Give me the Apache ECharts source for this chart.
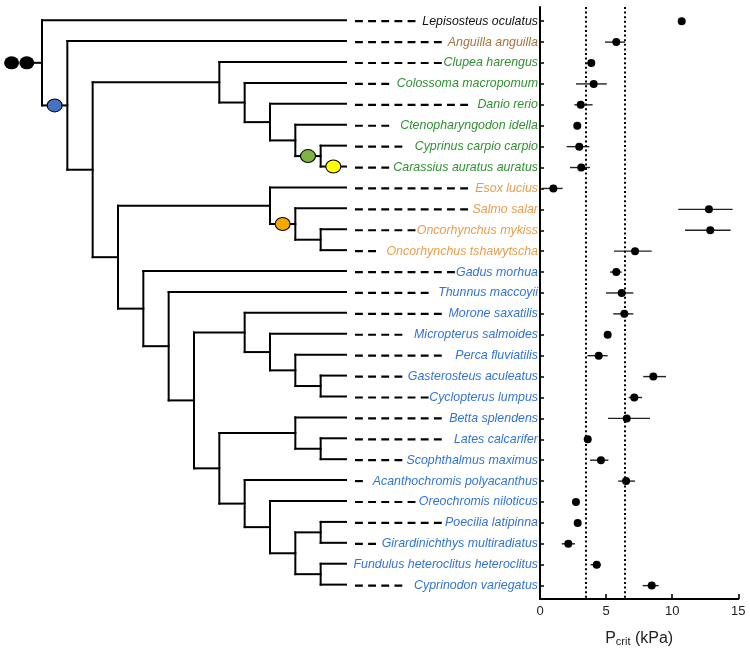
<!DOCTYPE html>
<html><head><meta charset="utf-8">
<script src="https://cdn.jsdelivr.net/npm/echarts@6/dist/echarts.min.js"></script>
<style>html,body{margin:0;padding:0;background:#fff}#c{width:750px;height:652px}</style>
</head><body><div id="c"></div>
<script>
// ---------- data ----------
const species = [
  'Lepisosteus oculatus','Anguilla anguilla','Clupea harengus','Colossoma macropomum',
  'Danio rerio','Ctenopharyngodon idella','Cyprinus carpio carpio','Carassius auratus auratus',
  'Esox lucius','Salmo salar','Oncorhynchus mykiss','Oncorhynchus tshawytscha',
  'Gadus morhua','Thunnus maccoyii','Morone saxatilis','Micropterus salmoides',
  'Perca fluviatilis','Gasterosteus aculeatus','Cyclopterus lumpus','Betta splendens',
  'Lates calcarifer','Scophthalmus maximus','Acanthochromis polyacanthus','Oreochromis niloticus',
  'Poecilia latipinna','Girardinichthys multiradiatus','Fundulus heteroclitus heteroclitus','Cyprinodon variegatus'
];
const group = [
  'gar','eel','ostariophysi','ostariophysi','ostariophysi','ostariophysi','ostariophysi','ostariophysi',
  'salmoniformes','salmoniformes','salmoniformes','salmoniformes',
  'neoteleostei','neoteleostei','neoteleostei','neoteleostei','neoteleostei','neoteleostei','neoteleostei','neoteleostei',
  'neoteleostei','neoteleostei','neoteleostei','neoteleostei','neoteleostei','neoteleostei','neoteleostei','neoteleostei'
];
const pcrit  = [10.72,5.77,3.88,4.06,3.08,2.82,2.97,3.12,1.01,12.78,12.88,7.19,5.77,6.18,6.38,5.12,4.44,8.57,7.13,6.56,3.61,4.61,6.51,2.72,2.85,2.14,4.29,8.45];
const ciLow  = [10.55,4.92,3.53,2.72,2.60,2.82,2.02,2.27,0.13,10.46,10.97,5.60,5.30,4.99,5.54,5.12,3.58,7.81,6.71,5.14,3.61,3.78,5.92,2.72,2.85,1.64,3.83,7.77];
const ciHigh = [10.90,6.43,4.16,5.05,3.98,2.82,3.73,3.78,1.71,14.57,14.42,8.45,6.18,7.06,7.06,5.12,5.12,9.53,7.72,8.32,3.61,5.17,7.19,2.72,2.85,2.65,4.61,8.98];
const xTicks = [0, 5, 10, 15];
const refLines = [3.45, 6.4];
// tree topology (leaf = species index)
const cyprinids = [2,[3,[4,[5,[6,7]]]]];
const salmonids = [8,[9,[10,11]]];
const percids   = [14,[15,[16,[17,18]]]];
const ovalentar = [[19,[20,21]],[22,[23,[[24,25],[26,27]]]]];
const tree = [0,[1,[cyprinids,[salmonids,[12,[13,[percids,ovalentar]]]]]]];
// duplication events marked on branches (clade given by first/last leaf)
const events = [
  {first:1, last:27, kind:'teleost'},
  {first:6, last:7,  kind:'carp'},
  {first:7, last:7,  kind:'goldfish'},
  {first:9, last:11, kind:'salmonid'}
];

// ---------- styles ----------
const FONT = '"Liberation Sans", Arial, Helvetica, sans-serif';
const groupColor = {gar:'#111111', eel:'#a5733f', ostariophysi:'#2f9131', salmoniformes:'#e99d4b', neoteleostei:'#3274d2'};
const eventColor = {teleost:'#4472c4', carp:'#7cb342', goldfish:'#ffff00', salmonid:'#f5a800'};
const PLOT_LEFT = 540, PLOT_W = 198.3, TOP = 7, H_PX = 592;
const ROW_MIN = 0.32, ROW_MAX = 28.64;
const ROW_PX = H_PX / (ROW_MAX - ROW_MIN);
const LABEL_FS = 12.4, LABEL_MARGIN = 2;
const DASH = 7.85, GAP = 5.3;

// ---------- tree layout ----------
function build(n, parent) {
  const node = {parent};
  if (typeof n === 'number') {
    node.leaf = true; node.first = node.last = n; node.h = 0; node.y = n + 1; node.children = [];
  } else {
    node.children = n.map(c => build(c, node));
    node.h = Math.max(...node.children.map(c => c.h)) + 1;
    const c0 = node.children[0], cl = node.children[node.children.length - 1];
    node.y = (c0.y + cl.y) / 2; node.first = c0.first; node.last = cl.last;
  }
  return node;
}
const root = build(tree, null);
const HMAX = root.h;
const segs = [], allNodes = [];
(function walk(n) {
  n.x = HMAX - n.h; allNodes.push(n);
  if (!n.leaf) {
    const c0 = n.children[0], cl = n.children[n.children.length - 1];
    n.children.forEach(c => { c.x = HMAX - c.h; });
    segs.push([n.x, c0.y, n.x, cl.y]);
    n.children.forEach(c => { segs.push([n.x, c.y, c.x, c.y]); walk(c); });
  }
})(root);
segs.push([-0.36, root.y, 0, root.y]);
const eventPts = events.map(e => {
  const n = allNodes.find(a => a.first === e.first && a.last === e.last);
  return {value: [(n.parent.x + n.x) / 2, n.y], itemStyle: {color: eventColor[e.kind]}};
});

// label widths for dash ends
const ctx = document.createElement('canvas').getContext('2d');
ctx.font = 'italic ' + LABEL_FS + 'px "Liberation Sans"';
const labelW = species.map(s => ctx.measureText(s).width);

const chart = echarts.init(document.getElementById('c'), null, {renderer: 'canvas'});
chart.setOption({
  animation: false,
  backgroundColor: '#fff',
  grid: [
    {left: 42 - 1.6 * 25.333, top: TOP - 1, width: 13.6 * 25.333, height: H_PX, containLabel: false, outerBoundsMode: 'none'},
    {left: PLOT_LEFT, top: TOP, width: PLOT_W, height: H_PX, containLabel: false, outerBoundsMode: 'none'},
    {left: PLOT_LEFT, top: TOP + (1 - ROW_MIN) * ROW_PX - 0.5 * ROW_PX,
     width: PLOT_W, height: 28 * ROW_PX, containLabel: false, outerBoundsMode: 'none'}
  ],
  xAxis: [
    {gridIndex: 0, type: 'value', min: -1.6, max: HMAX, show: false},
    {gridIndex: 1, type: 'value', min: xTicks[0], max: xTicks[xTicks.length - 1], interval: 5,
     axisLine: {onZero: false, lineStyle: {color: '#000', width: 2}},
     axisTick: {inside: true, length: 5, lineStyle: {color: '#000', width: 1.6}},
     axisLabel: {fontSize: 13, color: '#222', margin: 6, fontFamily: FONT},
     splitLine: {show: false},
     name: '{a|P}{b|crit}{a| (kPa)}', nameLocation: 'middle', nameGap: 31,
     nameTextStyle: {rich: {
       a: {fontSize: 16, color: '#222', fontFamily: FONT},
       b: {fontSize: 11, color: '#222', fontFamily: FONT, padding: [6, 0, 0, 0]}
     }}},
    {gridIndex: 2, type: 'value', min: 0, max: 15, show: false}
  ],
  yAxis: [
    {gridIndex: 0, type: 'value', inverse: true, min: ROW_MIN, max: ROW_MAX, show: false},
    {gridIndex: 1, type: 'value', inverse: true, min: ROW_MIN, max: ROW_MAX,
     axisLine: {show: true, onZero: false, lineStyle: {color: '#000', width: 2}},
     axisTick: {show: false}, axisLabel: {show: false}, splitLine: {show: false}},
    {gridIndex: 2, type: 'category', inverse: true,
     data: species.map((s, i) => ({value: s, textStyle: {color: groupColor[group[i]]}})),
     axisLine: {show: false},
     axisTick: {show: true, inside: true, alignWithLabel: true, length: 4, lineStyle: {color: '#000', width: 1.5}},
     axisLabel: {interval: 0, fontStyle: 'italic', fontSize: LABEL_FS, fontFamily: FONT, margin: LABEL_MARGIN},
     splitLine: {show: false}}
  ],
  series: [
    {type: 'custom', xAxisIndex: 0, yAxisIndex: 0, silent: true, z: 2,
     data: segs,
     renderItem: (p, api) => {
       const a = api.coord([api.value(0), api.value(1)]);
       const b = api.coord([api.value(2), api.value(3)]);
       return {type: 'line', shape: {x1: a[0], y1: a[1], x2: b[0], y2: b[1]},
               style: {stroke: '#000', lineWidth: 2, lineCap: 'square'}};
     }},
    {type: 'custom', xAxisIndex: 0, yAxisIndex: 0, silent: true, z: 2,
     data: species.map((s, i) => [HMAX, i + 1]),
     renderItem: (p, api) => {
       const i = api.value(1) - 1;
       const a = api.coord([api.value(0), api.value(1)]);
       const x1 = a[0] + 9;
       const labelStart = PLOT_LEFT - LABEL_MARGIN - labelW[i];
       const n = Math.floor((labelStart - 0.5 - x1 + GAP) / (DASH + GAP));
       if (n <= 0) return {type: 'group', children: []};
       const x2 = x1 + n * (DASH + GAP) - GAP;
       const y = a[1] + 1;
       return {type: 'line', shape: {x1: x1, y1: y, x2: x2, y2: y},
               style: {stroke: '#000', lineWidth: 2.2, lineDash: [DASH, GAP]}};
     }},
    {type: 'scatter', xAxisIndex: 0, yAxisIndex: 0, silent: true, z: 4,
     symbol: 'circle', symbolSize: [15, 13], itemStyle: {color: '#000', opacity: 1},
     data: [[-1.2, root.y], [-0.6, root.y]]},
    {type: 'scatter', xAxisIndex: 0, yAxisIndex: 0, silent: true, z: 5,
     symbol: 'circle', symbolSize: [15, 13],
     itemStyle: {borderColor: '#000', borderWidth: 1, opacity: 1},
     data: eventPts},
    {type: 'custom', xAxisIndex: 1, yAxisIndex: 1, silent: true, z: 3,
     data: species.map((s, i) => [ciLow[i], i + 1, ciHigh[i]]),
     renderItem: (p, api) => {
       const a = api.coord([api.value(0), api.value(1)]);
       const b = api.coord([api.value(2), api.value(1)]);
       return {type: 'line', shape: {x1: a[0], y1: a[1], x2: b[0], y2: b[1]},
               style: {stroke: '#222', lineWidth: 1.4}};
     }},
    {type: 'scatter', xAxisIndex: 1, yAxisIndex: 1, silent: true, z: 4,
     symbol: 'circle', symbolSize: 8, itemStyle: {color: '#000', opacity: 1},
     data: species.map((s, i) => [pcrit[i], i + 1]),
     markLine: {silent: true, symbol: 'none', label: {show: false},
       lineStyle: {color: '#000', width: 2, type: [2, 2.6]},
       data: refLines.map(v => ({xAxis: v}))}}
  ]
});
</script></body></html>
